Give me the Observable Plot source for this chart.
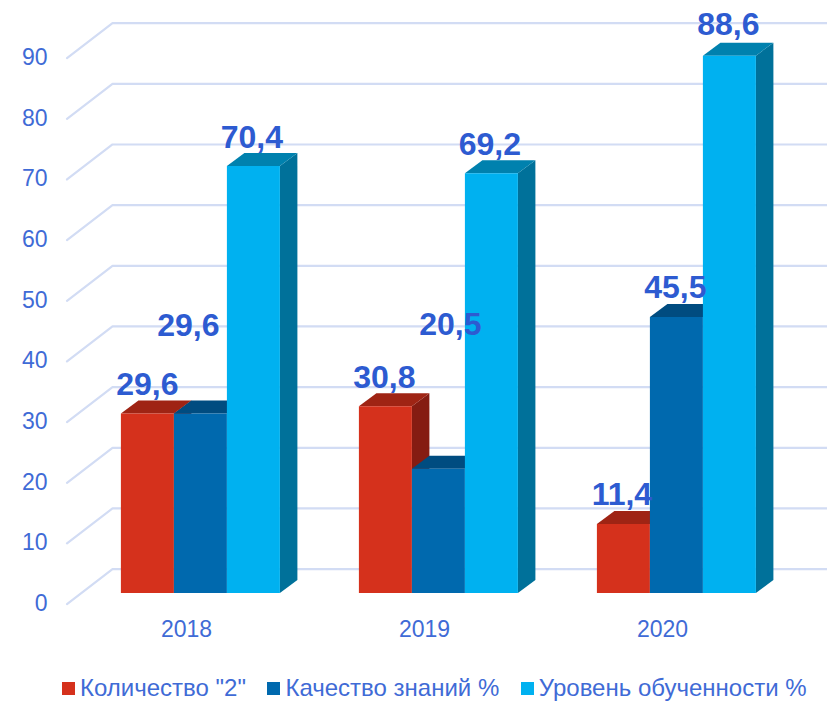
<!DOCTYPE html>
<html><head><meta charset="utf-8">
<script src="https://cdn.jsdelivr.net/npm/d3@7"></script>
<script src="https://cdn.jsdelivr.net/npm/@observablehq/plot@0.6"></script>
<style>
html,body{margin:0;padding:0;background:#fff}
#legend{display:flex;height:36px;align-items:center;padding-left:62px;font:24px "Liberation Sans",Arial,sans-serif;color:#3f6bd6;white-space:nowrap}
#legend i{display:inline-block;width:13px;height:13px;margin-right:5px}
#legend span{margin-right:21.5px;display:flex;align-items:center}
</style></head><body>
<div id="chart"></div><div id="legend"></div>
<script>
const years = ["2018", "2019", "2020"];
const seriesNames = ['Количество "2"', "Качество знаний %", "Уровень обученности %"];
const quantity2 = [29.6, 30.8, 11.4];
const quality = [29.6, 20.5, 45.5];
const attainment = [70.4, 69.2, 88.6];
const seriesValues = [quantity2, quality, attainment];
const yTicks = [0,10,20,30,40,50,60,70,80,90];
const frontColors = ["#d5311c", "#0069ae", "#00b1f0"];
const topColors = ["#9f2414", "#004c80", "#0081ae"];
const sideColors = ["#851c12", "#00527f", "#00719a"];
const labelNudges = [[0,-29],[-12,-88],[-1.5,-28],[-1,-29],[12,-144],[-1.5,-29],[-1.5,-29],[-1,-29],[-1,-31]];

const W = 827, H = 670;
const groupPx = 238, x0Px = 120.4, y0Px = 592.6;
const barW = 53/groupPx, depthX = 17.5/groupPx, depthY = 13/6.066;
const wallFrontX = (66.5-x0Px)/groupPx, wallBackX = (112-x0Px)/groupPx, wallEndX = (W-x0Px)/groupPx;
const wallFrontY = -11/6.066, wallBackY = 24/6.066;

const grid = yTicks.flatMap(v => [
  {id:v, x:wallFrontX, y:v+wallFrontY},
  {id:v, x:wallBackX, y:v+wallBackY},
  {id:v, x:wallEndX, y:v+wallBackY}
]);
const faces = [], labels = [];
years.forEach((yr,g) => seriesValues.forEach((vals,s) => {
  const v = vals[g], a = g + s*barW, b = a + barW;
  const poly = (key,color,pts) => pts.forEach(p => faces.push({id:`${g}-${s}-${key}`, color, x:p[0], y:p[1]}));
  poly("side", sideColors[s], [[b,0],[b+depthX,depthY],[b+depthX,v+depthY],[b,v]]);
  poly("top", topColors[s], [[a,v],[b,v],[b+depthX,v+depthY],[a+depthX,v+depthY]]);
  poly("front", frontColors[s], [[a,0],[b,0],[b,v],[a,v]]);
  const n = labelNudges[g*3+s];
  labels.push({x:(a+b)/2, y:v, text:String(v).replace(".",","), dx:n[0], dy:n[1]});
}));
const plot = Plot.plot({
  width:W, height:H, marginLeft:50, marginRight:0, marginTop:0, marginBottom:0,
  x:{domain:[-x0Px/groupPx,(W-x0Px)/groupPx], range:[0,W], axis:null},
  y:{domain:[0,90], range:[y0Px, y0Px-90*6.066], axis:null},
  marks:[
    Plot.line(grid,{x:"x",y:"y",z:"id",stroke:"#d2dcf4",strokeWidth:2.2}),
    Plot.axisY({ticks:yTicks, tickSize:0, tickPadding:3, dy:10.5, fontSize:23, color:"#3f6bd6", label:null, fontFamily:"Liberation Sans"}),
    Plot.line(faces,{x:"x",y:"y",z:"id",fill:"color",stroke:"none"}),
    Plot.text(years,{x:(d,i)=>i+(186-x0Px)/groupPx, y:()=>0, text:d=>d, dy:37, fontSize:23, fill:"#3f6bd6", fontFamily:"Liberation Sans"}),
    ...labels.map(l => Plot.text([l],{x:"x",y:"y",text:"text",dx:l.dx,dy:l.dy,fontSize:32,fontWeight:"bold",fill:"#2d5bd1",fontFamily:"Liberation Sans"}))
  ]
});
document.getElementById("chart").appendChild(plot);
plot.style.display="block";
const lg=document.getElementById("legend");
seriesNames.forEach((n,i)=>{const s=document.createElement("span");const b=document.createElement("i");b.style.background=frontColors[i];s.appendChild(b);s.appendChild(document.createTextNode(n));lg.appendChild(s);});
</script></body></html>
